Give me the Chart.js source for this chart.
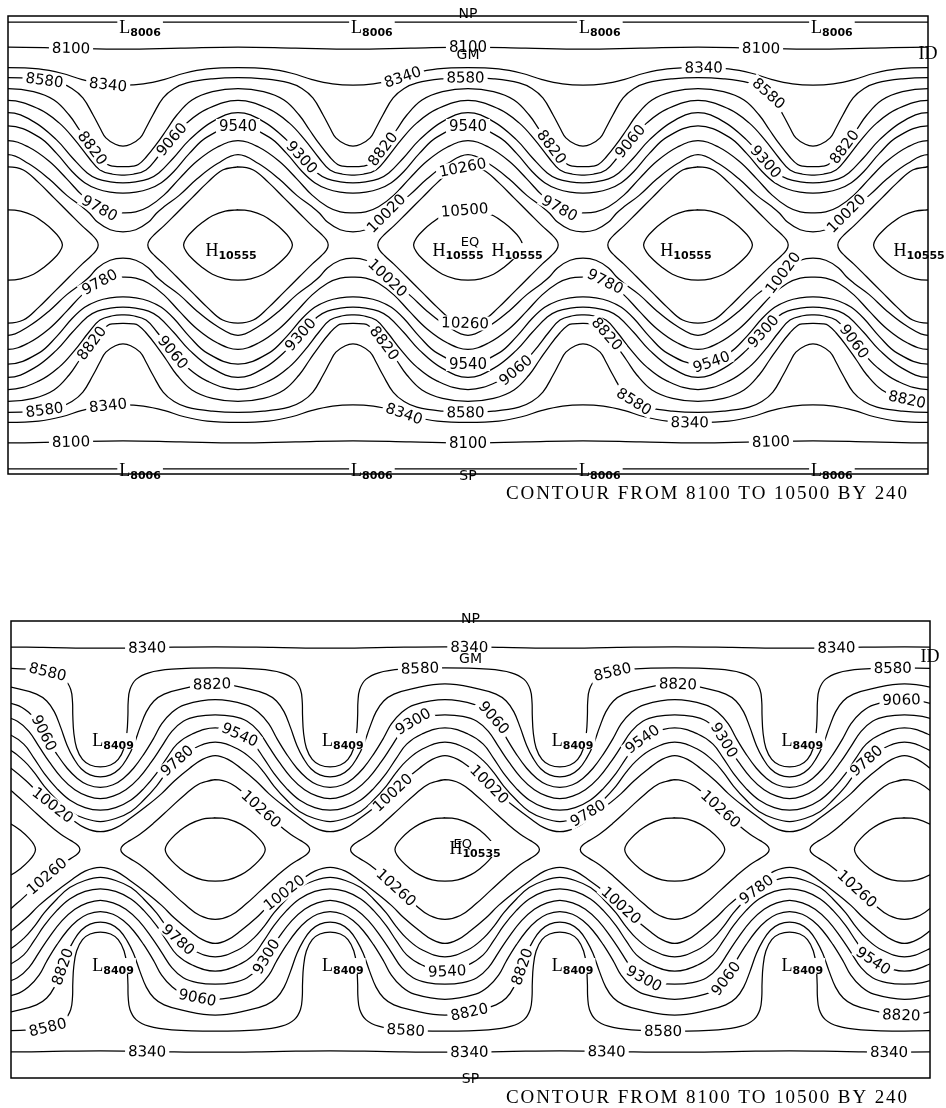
<!DOCTYPE html>
<html>
<head>
<meta charset="utf-8">
<script src="https://cdn.jsdelivr.net/npm/chart.js@4"></script>
<style>
  html, body { margin: 0; padding: 0; background: #fff; width: 946px; height: 1108px; overflow: hidden; }
  canvas { position: absolute; left: 0; }
  #topMap { top: 0; }
  #botMap { top: 560px; }
</style>
</head>
<body>
<canvas id="topMap" width="946" height="520"></canvas>
<canvas id="botMap" width="946" height="548"></canvas>
<script>
/* ── DATA ──
   Each wavy contour: one half wave on the northern side,
   [degrees east of the trough meridian, latitude].
   The pattern repeats every 90° of longitude and mirrors about the equator.
   Closed contours: one quarter, [degrees east of the high, latitude]. */

// top map
const topTroughs = [-225, -135, -45, 45, 135, 225];
const topHighs = [-180, -90, 0, 90, 180];
const top8100 = [[0, 77.0], [22.5, 77.4], [45, 77.8]];
const top8340 = [[0, 62.8], [8, 63.3], [16, 65.0], [24, 67.5], [33, 69.2], [45, 69.7]];
const top8580 = [[0, 38.9], [3, 39.6], [6.7, 42.1], [9, 46.0], [11.7, 51.1], [15.7, 57.8], [20, 61.5], [25, 63.7], [35, 65.3], [45, 65.8]];
const top8820 = [[0, 30.8], [4, 31.0], [6, 31.6], [9, 34.5], [13, 39.5], [17, 45.2], [21, 51.0], [27, 57.0], [35, 60.3], [45, 61.5]];
const top9060 = [[0, 27.5], [4, 27.8], [9, 29.5], [13.3, 34.2], [19, 41.5], [25, 48.0], [33, 53.5], [45, 56.8]];
const top9300 = [[0, 24.4], [5, 24.8], [10, 26.0], [14, 28.3], [20, 34.5], [26, 41.3], [35, 48.5], [45, 52.0]];
const top9540 = [[0, 20.4], [5, 20.8], [10, 22.0], [15, 24.5], [20, 29.0], [26, 36.0], [33, 42.5], [45, 46.8]];
const top9780 = [[0, 12.6], [5, 13.0], [10, 15.0], [16, 19.6], [22, 26.0], [29, 33.0], [37, 38.5], [45, 41.0]];
const top10020 = [[0, 5.2], [5, 6.0], [10, 9.0], [13, 12.4], [16, 15.0], [22, 19.5], [29, 26.0], [37, 32.0], [45, 35.5]];
const top10260 = [[0, 30.7], [6, 29.5], [12, 24.5], [18, 18.5], [24, 12.5], [29, 7.5], [32.5, 4.3], [34.6, 2.0], [35.3, 0]];
const top10500 = [[0, 13.8], [5, 13.3], [10, 11.5], [14, 8.8], [17.5, 5.8], [20, 3.0], [21.3, 0]];

// contour labels: [level, lon, lat]
const topLabels = [
  [8100, -155, 77.4], [8100, -0.8, 78.2], [8100, 115, 78.2],
  [8340, -140.9, 63.3], [8340, -25.8, 66.8], [8340, 92, 69.6],
  [8580, -166.3, 61.7], [8580, -1.2, 63.7], [8580, 116.2, 58.2],
  [8820, -146.7, 38.5], [8820, -34, 38.5], [8820, 32.9, 38.5], [8820, 146.3, 39.3],
  [9060, -115.8, 41.3], [9060, 63.4, 41.3],
  [9300, -64.9, 34.6], [9300, 117, 33.4],
  [9540, -90, 47.2], [9540, -0.4, 47.6],
  [9780, -144, 14.9], [9780, 36.4, 15.3],
  [10020, -32.1, 12.6], [10020, 147.5, 12.6],
  [10260, -2.3, 31.4], [10500, -1.2, 14.5],
  [9780, -143.6, -15.7], [9780, 53.6, -14.9],
  [10020, -32.1, -13.4], [10020, 122, -9.8],
  [10260, -1.2, -31.4],
  [8820, -146, -39.3], [8820, -34, -39.3], [8820, 51.6, -37.3], [8820, 172.2, -58.2],
  [9060, -115.8, -42], [9060, 10.6, -39.3], [9060, 149.5, -39.3],
  [9300, -64.9, -36], [9300, 110.3, -29.5],
  [9540, -0.4, -48], [9540, 95.5, -47.6],
  [8580, -166.3, -62.9], [8580, -1.2, -63.7], [8580, 67.3, -58.2],
  [8340, -140.9, -64.9], [8340, -25.8, -68], [8340, 86.9, -70.4],
  [8100, -155, -79.4], [8100, 0.8, -79.4], [8100, 119, -77.8]
];
const topLowValue = "8006";
const topLowMarks = [[-128.3, 85.7], [-37.6, 85.7], [51.6, 85.7], [142.4, 85.7],
                     [-128.3, -88.4], [-37.6, -88.4], [51.6, -88.4], [142.4, -88.4]];
const topHighValue = "10555";
const topHighMarks = [[-92.7, -2], [-3.9, -2], [19.2, -2], [85.3, -2], [176.5, -2]];

// bottom map
const botTroughs = [-235, -145, -55, 35, 125, 215];
const botHighs = [-190, -100, -10, 80, 170];
const bot8340 = [[0, 79.3], [22.5, 79.6], [45, 79.8]];
const bot8580 = [[0, 32.5], [4, 33.3], [7, 35.5], [9.3, 40.0], [10.4, 46.0], [10.8, 53.0], [10.9, 58.0], [11.6, 63.0], [14, 67.0], [19, 69.6], [28, 71.0], [45, 71.5]];
const bot8820 = [[0, 28.6], [4, 29.4], [7.5, 31.8], [10.5, 36.0], [13, 41.0], [15.5, 48.0], [18, 54.2], [21, 58.5], [25, 61.2], [32, 63.3], [45, 65.2]];
const bot9060 = [[0, 24.5], [5, 25.5], [9, 28.0], [13, 32.0], [17, 37.5], [21, 44.0], [24, 49.5], [28, 54.0], [33, 57.0], [45, 59.0]];
const bot9300 = [[0, 20.0], [5, 21.0], [10, 23.5], [15, 28.0], [20, 34.5], [24, 40.5], [28, 46.5], [32.5, 50.5], [38, 52.4], [45, 53.0]];
const bot9540 = [[0, 15.5], [6, 16.5], [12, 19.5], [17, 24.0], [22, 30.0], [26, 36.0], [30, 41.5], [36, 45.5], [45, 47.9]];
const bot9780 = [[0, 11.0], [6, 12.2], [12, 15.0], [17, 19.5], [22, 25.0], [26, 30.5], [30, 35.0], [36, 39.5], [45, 42.3]];
const bot10020 = [[0, 7.0], [6, 8.5], [12, 12.5], [18, 17.0], [24, 22.0], [29, 27.0], [35, 32.0], [40, 35.5], [45, 37.0]];
const bot10260 = [[0, 27.5], [6, 26.0], [12, 21.5], [18, 16.0], [24, 10.5], [29.5, 6.0], [33.5, 3.5], [36.2, 1.6], [37, 0]];
const bot10500 = [[0, 12.5], [5, 12.0], [10, 10.0], [14, 7.3], [17, 4.5], [18.8, 2.2], [19.6, 0]];

const botLabels = [
  [8340, -126.7, 80.5], [8340, 0, 80.5], [8340, 143.6, 80.5],
  [8580, -166.3, 68.3], [8580, -19.8, 71.9], [8580, 55.8, 70.7], [8580, 165.9, 71.5],
  [8820, -101.3, 65.2], [8820, 81.3, 65.2],
  [9060, -168.2, 45.1], [9060, 8, 51], [9060, 169, 59.7],
  [9300, -22.9, 51], [9300, 98.5, 42.3],
  [9540, -90.3, 45.5], [9540, 66.8, 44.3],
  [9780, -115, 35.3], [9780, 44.1, 17.5], [9780, 153.4, 36.4],
  [10020, -164.3, 16.3], [10020, -30.7, 22.3], [10020, 6.1, 24.6],
  [10260, -82.1, 15.6], [10260, 97.7, 15.6],
  [10260, -165.9, -10.8], [10260, -29.6, -16], [10260, 150.6, -16],
  [10020, -73.5, -16], [10020, 59, -21.9],
  [9780, -114.6, -35.6], [9780, 112.2, -16],
  [9300, -81.3, -41.6], [9300, 67.6, -51.4],
  [9060, -106.7, -58.9], [9060, 98.9, -50.2],
  [9540, -8.8, -48.6], [9540, 157.3, -44.7],
  [8820, -163.5, -44.7], [8820, -0.2, -65.2], [8820, 16.6, -44.7], [8820, 169, -65.2],
  [8580, -165.9, -69.1], [8580, -25.3, -71.9], [8580, 75.8, -72.3],
  [8340, -126.7, -80.9], [8340, -0.2, -80.9], [8340, 53.5, -80.5], [8340, 163.2, -80.5]
];
const botLowValue = "8409";
const botLowMarks = [[-140, 43.1], [-50, 43.1], [40, 43.1], [130, 43.1],
                     [-140, -45.5], [-50, -45.5], [40, -45.5], [130, -45.5]];
const botHighValue = "10535";
const botHighMarks = [[1.8, 0.6]];

const caption = "CONTOUR FROM 8100 TO 10500 BY 240";

/* ── BUILD LINES ── */
const LINE = { borderColor: "#000", borderWidth: 1.25, pointRadius: 0, pointHoverRadius: 0,
               showLine: true, tension: 0.4, fill: false };

function waveData(half, troughs, sign) {
  const pts = [];
  troughs.forEach((t, i) => {
    for (let j = half.length - 1; j >= 0; j--) {
      if (i > 0 && j === half.length - 1) continue; // shared ridge point
      pts.push({ x: t - half[j][0], y: sign * half[j][1] });
    }
    for (let j = 1; j < half.length; j++) pts.push({ x: t + half[j][0], y: sign * half[j][1] });
  });
  return pts;
}

function ringData(quarter, c) {
  const n = quarter.length;
  const loop = [];
  for (let j = 0; j < n; j++) loop.push({ x: c + quarter[j][0], y: quarter[j][1] });
  for (let j = n - 2; j >= 0; j--) loop.push({ x: c + quarter[j][0], y: -quarter[j][1] });
  for (let j = 1; j < n; j++) loop.push({ x: c - quarter[j][0], y: -quarter[j][1] });
  for (let j = n - 2; j >= 1; j--) loop.push({ x: c - quarter[j][0], y: quarter[j][1] });
  return [loop[loop.length - 1], ...loop, loop[0]]; // overlap so the ring closes smoothly
}

function buildSets(waves, rings, troughs, highs) {
  const sets = [];
  waves.forEach(([level, half]) => {
    sets.push({ ...LINE, level, data: waveData(half, troughs, 1) });
    sets.push({ ...LINE, level, data: waveData(half, troughs, -1) });
  });
  rings.forEach(([level, quarter]) =>
    highs.forEach(c => sets.push({ ...LINE, level, data: ringData(quarter, c) })));
  return sets;
}

/* ── LABELS, FRAME, TEXT ── */
const contourDecor = {
  id: "contourDecor",
  afterDatasetsDraw(chart, args, o) {
    const { ctx, chartArea: a, scales: { x, y } } = chart;

    // sample the drawn curves so labels sit on them
    const curves = {};
    chart.data.datasets.forEach((ds, i) => {
      const pts = chart.getDatasetMeta(i).data;
      const list = curves[ds.level] || (curves[ds.level] = []);
      for (let k = 0; k < pts.length - 1; k++) {
        const p = pts[k], q = pts[k + 1];
        const c1x = p.cp2x ?? p.x, c1y = p.cp2y ?? p.y, c2x = q.cp1x ?? q.x, c2y = q.cp1y ?? q.y;
        for (let s = 0; s < 12; s++) {
          const t = s / 12, u = 1 - t;
          const px = u * u * u * p.x + 3 * u * u * t * c1x + 3 * u * t * t * c2x + t * t * t * q.x;
          const py = u * u * u * p.y + 3 * u * u * t * c1y + 3 * u * t * t * c2y + t * t * t * q.y;
          if (px < a.left + 2 || px > a.right - 2 || py < a.top || py > a.bottom) continue;
          let dx = 3 * u * u * (c1x - p.x) + 6 * u * t * (c2x - c1x) + 3 * t * t * (q.x - c2x);
          let dy = 3 * u * u * (c1y - p.y) + 6 * u * t * (c2y - c1y) + 3 * t * t * (q.y - c2y);
          if (Math.abs(dx) + Math.abs(dy) < 1e-6) { dx = q.x - p.x; dy = q.y - p.y; }
          list.push([px, py, Math.atan2(dy, dx)]);
        }
      }
    });

    ctx.save();
    ctx.strokeStyle = "#000";
    ctx.lineWidth = 1.2;
    (o.poleLines || []).forEach(lat => {
      const py = y.getPixelForValue(lat);
      ctx.beginPath(); ctx.moveTo(a.left, py); ctx.lineTo(a.right, py); ctx.stroke();
    });

    // contour values
    ctx.font = '15px "DejaVu Sans"';
    ctx.textAlign = "center";
    ctx.textBaseline = "middle";
    o.labels.forEach(([level, lon, lat]) => {
      const tx = x.getPixelForValue(lon), ty = y.getPixelForValue(lat);
      let best = null, bd = Infinity;
      (curves[level] || []).forEach(s => {
        const d = (s[0] - tx) ** 2 + (s[1] - ty) ** 2;
        if (d < bd) { bd = d; best = s; }
      });
      if (!best) return;
      let ang = best[2];
      if (ang > Math.PI / 2) ang -= Math.PI;
      if (ang < -Math.PI / 2) ang += Math.PI;
      const txt = String(level);
      const w = ctx.measureText(txt).width;
      ctx.save();
      ctx.translate(best[0], best[1]);
      ctx.rotate(ang);
      ctx.fillStyle = "#fff";
      ctx.fillRect(-w / 2 - 3, -7, w + 6, 14);
      ctx.fillStyle = "#000";
      ctx.fillText(txt, 0, 1);
      ctx.restore();
    });

    // H / L marks
    const mark = (letter, value, lon, lat) => {
      const cx = x.getPixelForValue(lon), cy = y.getPixelForValue(lat);
      ctx.font = '18px "Liberation Serif"';
      const wL = ctx.measureText(letter).width;
      ctx.font = 'bold 11px "DejaVu Sans"';
      const wV = ctx.measureText(value).width;
      const left = cx - (wL + wV) / 2;
      ctx.fillStyle = "#fff";
      ctx.fillRect(left - 2, cy - 7, wL + wV + 4, 16);
      ctx.fillStyle = "#000";
      ctx.textAlign = "left";
      ctx.textBaseline = "alphabetic";
      ctx.font = '18px "Liberation Serif"';
      ctx.fillText(letter, left, cy + 6);
      ctx.font = 'bold 11px "DejaVu Sans"';
      ctx.fillText(value, left + wL, cy + 9);
    };
    o.lows.marks.forEach(([lon, lat]) => mark("L", o.lows.value, lon, lat));
    o.highs.marks.forEach(([lon, lat]) => mark("H", o.highs.value, lon, lat));

    // frame
    ctx.lineWidth = 1.5;
    ctx.strokeRect(a.left, a.top, a.right - a.left, a.bottom - a.top);

    // place names
    ctx.fillStyle = "#000";
    ctx.textAlign = "center";
    ctx.textBaseline = "middle";
    o.names.forEach(n => {
      ctx.font = n.font;
      ctx.fillText(n.t, x.getPixelForValue(n.lon), y.getPixelForValue(n.lat));
    });

    // caption, stretched evenly between its two ends
    ctx.font = '19px "Liberation Serif"';
    ctx.textAlign = "left";
    const chars = [...caption];
    const widths = chars.map(c => ctx.measureText(c).width);
    const natural = widths.reduce((s, w) => s + w, 0);
    const extra = (o.captionRight - o.captionLeft - natural) / (chars.length - 1);
    let cx = o.captionLeft;
    chars.forEach((c, i) => { ctx.fillText(c, cx, a.bottom + 20); cx += widths[i] + extra; });
    ctx.restore();
  }
};

function makeMap(id, datasets, padding, decor) {
  return new Chart(document.getElementById(id).getContext("2d"), {
    type: "scatter",
    data: { datasets },
    options: {
      responsive: false,
      animation: false,
      devicePixelRatio: 1,
      events: [],
      layout: { padding },
      scales: {
        x: { type: "linear", min: -180, max: 180, display: false },
        y: { type: "linear", min: -90, max: 90, display: false }
      },
      plugins: { legend: { display: false }, tooltip: { enabled: false }, contourDecor: decor }
    },
    plugins: [contourDecor]
  });
}

const SANS = '14px "DejaVu Sans"';
const SERIF = '18px "Liberation Serif"';

makeMap("topMap",
  buildSets(
    [[8100, top8100], [8340, top8340], [8580, top8580], [8820, top8820], [9060, top9060],
     [9300, top9300], [9540, top9540], [9780, top9780], [10020, top10020]],
    [[10260, top10260], [10500, top10500]],
    topTroughs, topHighs),
  { left: 8, right: 18, top: 16, bottom: 46 },
  {
    labels: topLabels,
    poleLines: [87.6, -88.0],
    lows: { value: topLowValue, marks: topLowMarks },
    highs: { value: topHighValue, marks: topHighMarks },
    names: [
      { t: "NP", lon: 0, lat: 90.8, font: SANS },
      { t: "SP", lon: 0, lat: -90.8, font: SANS },
      { t: "GM", lon: 0, lat: 74.5, font: SANS },
      { t: "EQ", lon: 0.8, lat: 0.8, font: '13px "DejaVu Sans"' },
      { t: "ID", lon: 180, lat: 75, font: SERIF }
    ],
    captionLeft: 506, captionRight: 907
  });

makeMap("botMap",
  buildSets(
    [[8340, bot8340], [8580, bot8580], [8820, bot8820], [9060, bot9060], [9300, bot9300],
     [9540, bot9540], [9780, bot9780], [10020, bot10020]],
    [[10260, bot10260], [10500, bot10500]],
    botTroughs, botHighs),
  { left: 11, right: 16, top: 61, bottom: 30 },
  {
    labels: botLabels,
    poleLines: [],
    lows: { value: botLowValue, marks: botLowMarks },
    highs: { value: botHighValue, marks: botHighMarks },
    names: [
      { t: "NP", lon: 0, lat: 90.5, font: SANS },
      { t: "SP", lon: 0, lat: -90.5, font: SANS },
      { t: "GM", lon: 0, lat: 75, font: SANS },
      { t: "EQ", lon: -3, lat: 1.8, font: '13px "DejaVu Sans"' },
      { t: "ID", lon: 180, lat: 75.8, font: SERIF }
    ],
    captionLeft: 506, captionRight: 907
  });
</script>
</body>
</html>
